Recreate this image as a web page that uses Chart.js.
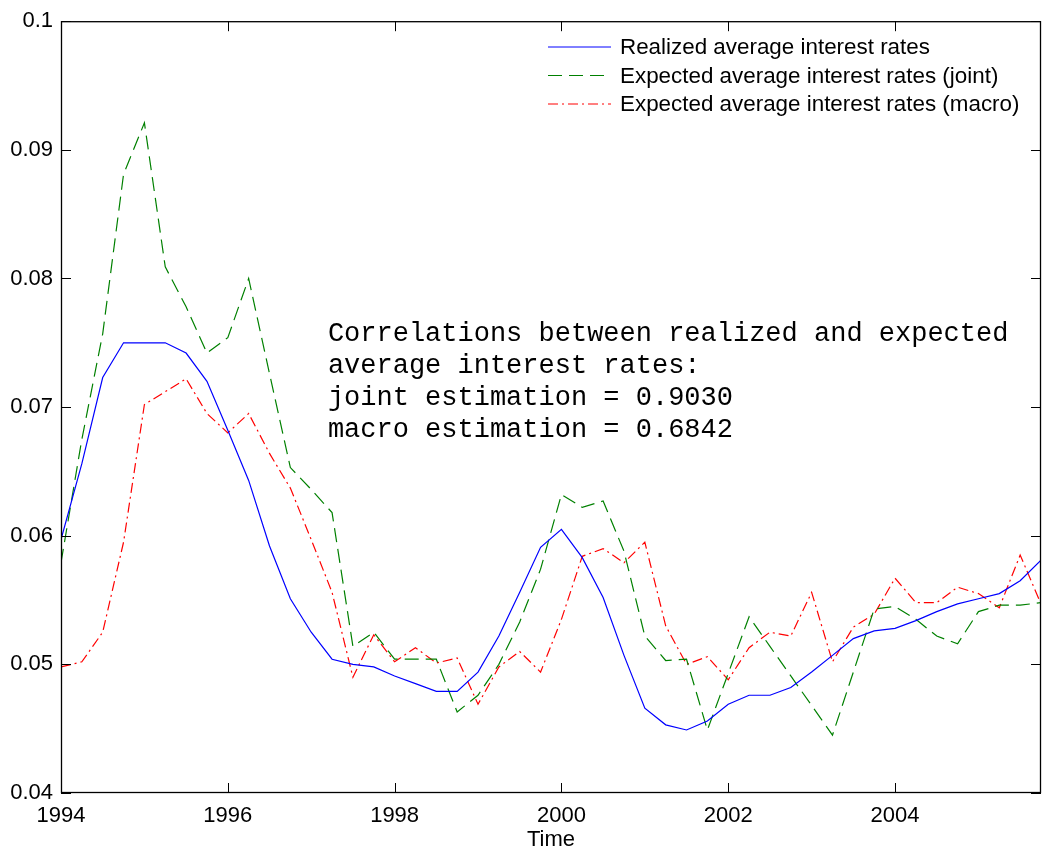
<!DOCTYPE html>
<html>
<head>
<meta charset="utf-8">
<script src="https://cdn.jsdelivr.net/npm/chart.js@4/dist/chart.umd.min.js"></script>
<style>
  html, body { margin: 0; padding: 0; background: #fff; }
  #wrap { width: 1042px; height: 854px; }
</style>
</head>
<body>
<div id="wrap"><canvas id="Linegraph" width="1042" height="854"></canvas></div>
<script>
// quarterly observations, 1994Q1 .. 2005Q4
const startYear = 1994;
const realized = [
  0.0597, 0.0656, 0.0723, 0.0750, 0.0750, 0.0750, 0.0742, 0.0720,
  0.0682, 0.0643, 0.0592, 0.0551, 0.0525, 0.0504, 0.0500, 0.0498,
  0.0491, 0.0485, 0.0479, 0.0479, 0.0494, 0.0522, 0.0556, 0.0591,
  0.0605, 0.0583, 0.0552, 0.0507, 0.0466, 0.0453, 0.0449, 0.0456,
  0.0469, 0.0476, 0.0476, 0.0482, 0.0494, 0.0507, 0.0520, 0.0526,
  0.0528, 0.0534, 0.0541, 0.0547, 0.0551, 0.0555, 0.0565, 0.0581
];
const expectedJoint = [
  0.0579, 0.0675, 0.0757, 0.0881, 0.0921, 0.0809, 0.0778, 0.0742,
  0.0754, 0.0800, 0.0726, 0.0653, 0.0636, 0.0618, 0.0514, 0.0525,
  0.0504, 0.0504, 0.0504, 0.0463, 0.0476, 0.0500, 0.0533, 0.0574,
  0.0632, 0.0622, 0.0627, 0.0588, 0.0522, 0.0503, 0.0504, 0.0449,
  0.0493, 0.0537, 0.0514, 0.0491, 0.0468, 0.0445, 0.0494, 0.0543,
  0.0545, 0.0535, 0.0522, 0.0516, 0.0541, 0.0546, 0.0546, 0.0548
];
const expectedMacro = [
  0.0498, 0.0502, 0.0525, 0.0595, 0.0702, 0.0712, 0.0722, 0.0695,
  0.0680, 0.0695, 0.0664, 0.0637, 0.0597, 0.0556, 0.0490, 0.0523,
  0.0502, 0.0513, 0.0501, 0.0505, 0.0469, 0.0498, 0.0510, 0.0494,
  0.0535, 0.0584, 0.0590, 0.0579, 0.0595, 0.0530, 0.0500, 0.0506,
  0.0488, 0.0513, 0.0525, 0.0522, 0.0556, 0.0502, 0.0529, 0.0539,
  0.0567, 0.0548, 0.0548, 0.0560, 0.0555, 0.0544, 0.0585, 0.0547
];
const xTicks = [1994, 1996, 1998, 2000, 2002, 2004];
const yTicks = [0.04, 0.05, 0.06, 0.07, 0.08, 0.09, 0.1];
const seriesNames = [
  'Realized average interest rates',
  'Expected average interest rates (joint)',
  'Expected average interest rates (macro)'
];
const noteLines = [
  'Correlations between realized and expected',
  'average interest rates:',
  'joint estimation = 0.9030',
  'macro estimation = 0.6842'
];

const toPoints = arr => arr.map((v, i) => ({ x: startYear + i * 0.25, y: v }));

const sans = '"Liberation Sans", Arial, Helvetica, sans-serif';

// box, inward ticks, legend and text note
const frame = {
  id: 'frame',
  afterDraw(chart) {
    const { ctx, chartArea: a, scales } = chart;
    const xs = scales.x, ys = scales.y;
    ctx.save();
    ctx.strokeStyle = '#000';
    ctx.lineWidth = 1;
    ctx.beginPath();
    xTicks.forEach(v => {
      const px = Math.round(xs.getPixelForValue(v)) + 0.5;
      ctx.moveTo(px, a.bottom); ctx.lineTo(px, a.bottom - 10);
      ctx.moveTo(px, a.top); ctx.lineTo(px, a.top + 10);
    });
    yTicks.forEach(v => {
      const py = Math.round(ys.getPixelForValue(v)) + 0.5;
      ctx.moveTo(a.left, py); ctx.lineTo(a.left + 10, py);
      ctx.moveTo(a.right, py); ctx.lineTo(a.right - 10, py);
    });
    ctx.stroke();
    ctx.lineWidth = 1.3;
    ctx.strokeRect(a.left + 0.5, a.top + 0.5, a.right - a.left - 1, a.bottom - a.top - 1);

    // legend
    ctx.font = '22.4px ' + sans;
    ctx.textBaseline = 'middle';
    ctx.fillStyle = '#000';
    chart.data.datasets.forEach((ds, i) => {
      const y = 47 + i * 28.5;
      ctx.strokeStyle = ds.borderColor;
      ctx.lineWidth = 1;
      ctx.setLineDash(ds.borderDash || []);
      ctx.beginPath();
      ctx.moveTo(548, y); ctx.lineTo(611, y);
      ctx.stroke();
      ctx.setLineDash([]);
      ctx.fillText(seriesNames[i], 620, y + 1);
    });

    // note
    ctx.font = '27px "Liberation Mono", "Courier New", monospace';
    const nx = xs.getPixelForValue(1997.2);
    const ny = ys.getPixelForValue(0.0757);
    noteLines.forEach((t, i) => ctx.fillText(t, nx, ny + i * 32));
    ctx.restore();
  }
};

const ctx = document.getElementById('Linegraph');

new Chart(ctx, {
  type: 'line',
  data: {
    datasets: [{
      label: seriesNames[0],
      data: toPoints(realized),
      borderColor: '#0000ff',
      borderWidth: 1.2
    }, {
      label: seriesNames[1],
      data: toPoints(expectedJoint),
      borderColor: '#008000',
      borderWidth: 1.2,
      borderDash: [14, 7]
    }, {
      label: seriesNames[2],
      data: toPoints(expectedMacro),
      borderColor: '#ff0000',
      borderWidth: 1.2,
      borderDash: [10, 4, 2, 4]
    }]
  },
  options: {
    responsive: false,
    animation: false,
    layout: { padding: { top: 15, right: 1, left: 0, bottom: 0 } },
    elements: { point: { radius: 0 }, line: { tension: 0 } },
    scales: {
      x: {
        type: 'linear',
        min: 1994,
        max: 2005.75,
        grid: { display: false, drawTicks: false },
        border: { display: false },
        afterBuildTicks: axis => { axis.ticks = xTicks.map(v => ({ value: v })); },
        afterFit: axis => { axis.height = 61; },
        ticks: { color: '#000', padding: 10, font: { family: sans, size: 22 }, maxRotation: 0, callback: v => String(v) },
        title: { display: true, text: 'Time', color: '#000', font: { family: sans, size: 22 }, padding: { top: 0, bottom: 1 } }
      },
      y: {
        min: 0.04,
        max: 0.1,
        grid: { display: false, drawTicks: false },
        border: { display: false },
        afterBuildTicks: axis => { axis.ticks = yTicks.map(v => ({ value: v })); },
        afterFit: axis => { axis.width = 61; },
        ticks: { color: '#000', padding: 8, font: { family: sans, size: 22 }, callback: v => String(Math.round(v * 100) / 100) }
      }
    },
    plugins: {
      legend: { display: false },
      tooltip: { enabled: false }
    }
  },
  plugins: [frame]
});
</script>
</body>
</html>
